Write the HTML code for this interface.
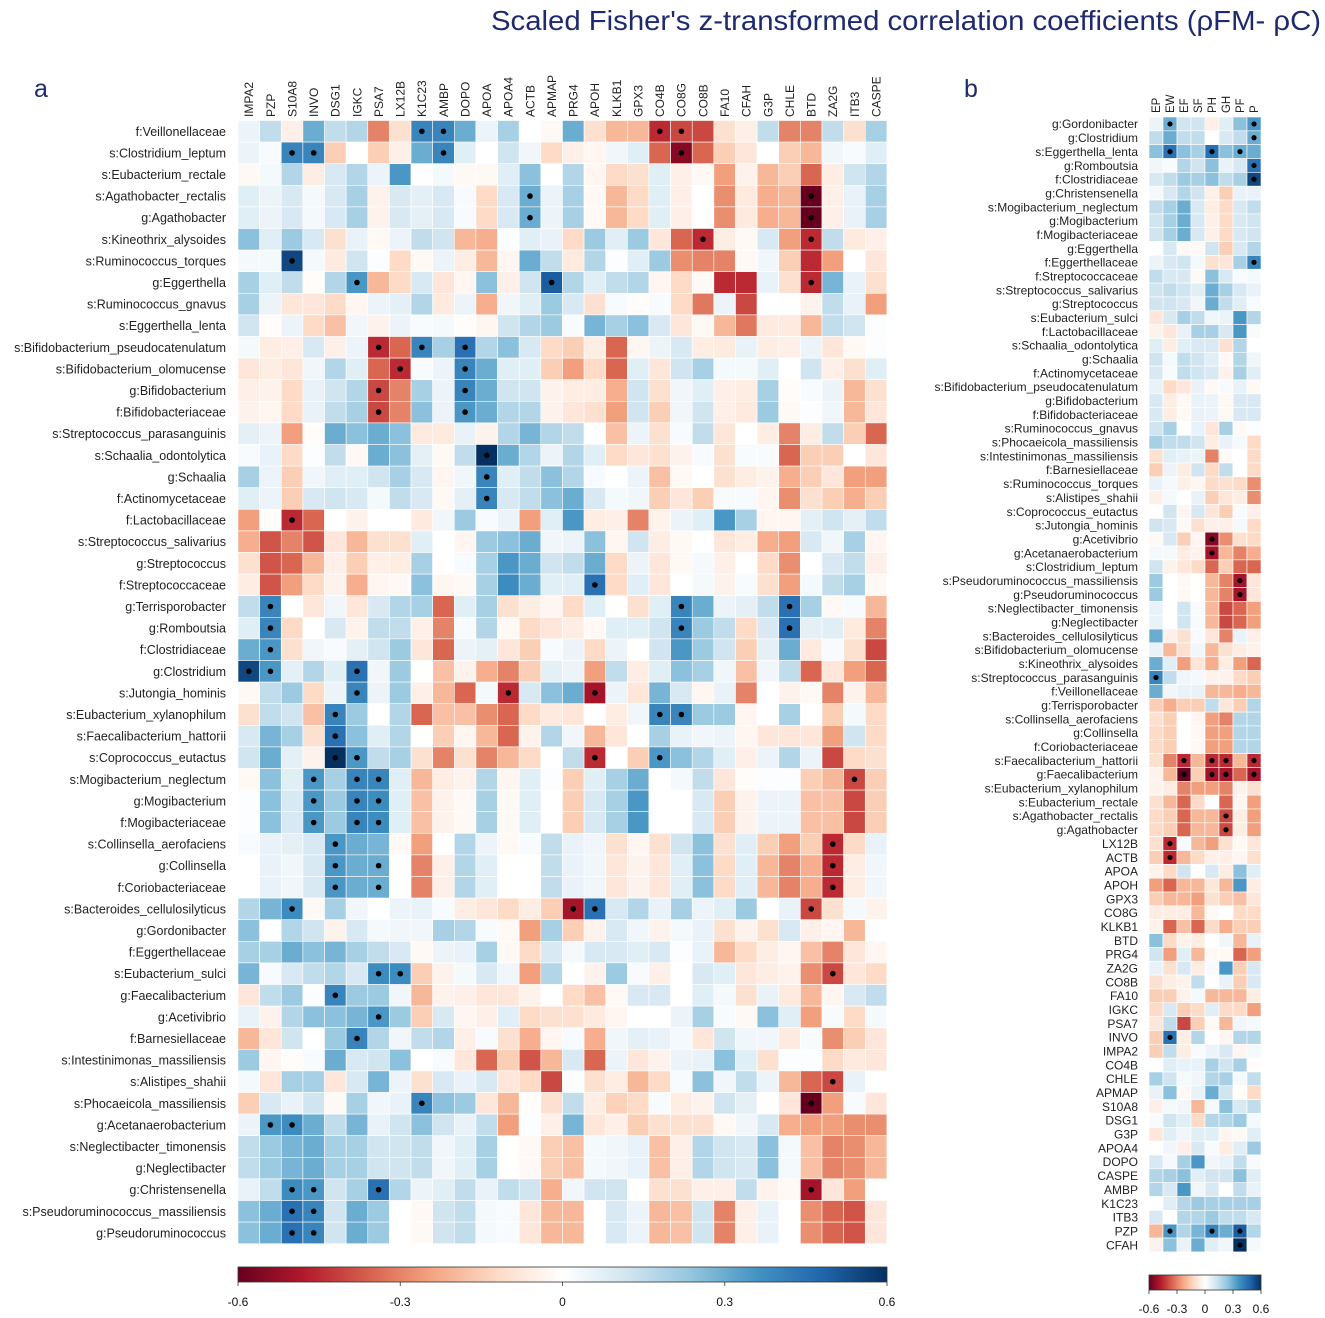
<!DOCTYPE html>
<html><head><meta charset="utf-8"><style>
body{margin:0;background:#fff;}
svg{display:block;font-family:"Liberation Sans",sans-serif;}
</style></head><body>
<svg id="chart" width="1325" height="1318" xmlns="http://www.w3.org/2000/svg">
<defs>
<linearGradient id="rdbu" x1="0" x2="1" y1="0" y2="0">
<stop offset="0" stop-color="#67001f"/><stop offset="0.1" stop-color="#b2182b"/><stop offset="0.2" stop-color="#d6604d"/><stop offset="0.3" stop-color="#f4a582"/><stop offset="0.4" stop-color="#fddbc7"/><stop offset="0.5" stop-color="#ffffff"/><stop offset="0.6" stop-color="#d1e5f0"/><stop offset="0.7" stop-color="#92c5de"/><stop offset="0.8" stop-color="#4393c3"/><stop offset="0.9" stop-color="#2166ac"/><stop offset="1" stop-color="#053061"/>
</linearGradient>
</defs>
<text x="1321" y="30" text-anchor="end" font-size="28" fill="#1f2a6e" textLength="830" lengthAdjust="spacingAndGlyphs">Scaled Fisher's z-transformed correlation coefficients (ρFM- ρC)</text>
<text x="34" y="97" font-size="25" fill="#1f2a6e">a</text>
<text x="964" y="97" font-size="25" fill="#1f2a6e">b</text>
<g id="pa"></g>
<g id="pb"></g>
<g id="cba"></g>
<g id="cbb"></g>
</svg>
<script>
const colsA=["IMPA2","PZP","S10A8","INVO","DSG1","IGKC","PSA7","LX12B","K1C23","AMBP","DOPO","APOA","APOA4","ACTB","APMAP","PRG4","APOH","KLKB1","GPX3","CO4B","CO8G","CO8B","FA10","CFAH","G3P","CHLE","BTD","ZA2G","ITB3","CASPE"];
const rowsA=["f:Veillonellaceae","s:Clostridium_leptum","s:Eubacterium_rectale","s:Agathobacter_rectalis","g:Agathobacter","s:Kineothrix_alysoides","s:Ruminococcus_torques","g:Eggerthella","s:Ruminococcus_gnavus","s:Eggerthella_lenta","s:Bifidobacterium_pseudocatenulatum","s:Bifidobacterium_olomucense","g:Bifidobacterium","f:Bifidobacteriaceae","s:Streptococcus_parasanguinis","s:Schaalia_odontolytica","g:Schaalia","f:Actinomycetaceae","f:Lactobacillaceae","s:Streptococcus_salivarius","g:Streptococcus","f:Streptococcaceae","g:Terrisporobacter","g:Romboutsia","f:Clostridiaceae","g:Clostridium","s:Jutongia_hominis","s:Eubacterium_xylanophilum","s:Faecalibacterium_hattorii","s:Coprococcus_eutactus","s:Mogibacterium_neglectum","g:Mogibacterium","f:Mogibacteriaceae","s:Collinsella_aerofaciens","g:Collinsella","f:Coriobacteriaceae","s:Bacteroides_cellulosilyticus","g:Gordonibacter","f:Eggerthellaceae","s:Eubacterium_sulci","g:Faecalibacterium","g:Acetivibrio","f:Barnesiellaceae","s:Intestinimonas_massiliensis","s:Alistipes_shahii","s:Phocaeicola_massiliensis","g:Acetanaerobacterium","s:Neglectibacter_timonensis","g:Neglectibacter","g:Christensenella","s:Pseudoruminococcus_massiliensis","g:Pseudoruminococcus"];
const valuesA=[
[.05,.15,-.05,.3,.15,.18,-.3,-.1,.4,.4,.3,.05,.2,0,-.02,.3,-.1,-.2,-.2,-.45,-.4,-.4,-.1,-.05,.15,-.3,-.3,.15,-.1,.2],
[.05,.02,.4,.4,-.15,0,-.15,-.05,.3,.4,.08,0,.12,.04,-.12,-.05,-.03,.04,.08,-.35,-.55,-.35,-.15,-.08,0,-.15,-.2,.04,.02,.08],
[-.02,.03,.18,-.06,.1,.18,.05,.35,0,.03,-.02,-.02,.08,.25,0,.18,-.03,-.12,-.1,.08,-.05,-.02,-.25,-.04,-.2,-.15,-.35,-.06,.12,.18],
[.08,.05,.1,.03,.1,.2,-.04,.1,.07,.1,.02,-.12,.1,.3,.05,.2,-.02,-.2,-.12,.08,-.05,0,-.28,-.07,-.22,-.2,-.6,-.05,.06,.2],
[.08,.05,.1,.03,.1,.2,-.04,.1,.07,.1,.02,-.12,.1,.3,.05,.2,-.02,-.2,-.12,.08,-.05,0,-.28,-.07,-.22,-.2,-.6,-.05,.06,.2],
[.25,.08,.22,.1,-.1,.06,-.02,.05,.15,.12,-.2,-.22,.01,.08,.06,-.12,.22,.08,.22,-.08,-.35,-.45,-.06,-.02,.1,-.25,-.45,.15,-.07,-.05],
[.03,.03,.55,.03,-.07,.12,.01,-.12,-.02,.05,-.06,-.2,-.03,.3,.15,-.07,.18,.01,.08,.22,-.28,-.3,-.3,-.02,.04,-.15,-.45,-.25,0,-.08],
[.2,.08,.15,-.01,.18,.35,-.2,-.12,.1,-.08,-.03,.25,-.05,.12,.5,.18,.08,.15,.18,-.03,-.12,-.02,-.45,-.45,.06,-.1,-.45,.28,.06,-.1],
[.2,.05,-.08,-.08,-.12,-.03,.05,.07,.18,-.07,.05,-.22,.04,.08,.22,.1,-.1,.02,-.01,.02,-.12,-.32,.05,-.4,0,0,-.04,.15,.06,-.25],
[.12,-.01,.05,-.12,-.18,.04,-.04,.05,.02,.03,-.01,-.03,.12,.18,.22,.02,.28,.2,.25,.1,-.08,-.02,-.2,-.32,-.07,-.07,-.2,.15,.12,.01],
[.03,-.06,-.05,.1,-.05,.05,-.45,-.35,.4,.2,.45,.18,.25,.1,-.12,-.15,-.06,-.35,-.03,.05,.1,-.06,-.07,.06,-.06,-.05,.05,-.08,-.02,.01],
[-.08,-.06,-.08,.04,.18,.08,-.35,-.45,.02,.05,.4,.3,.08,.08,-.15,-.25,-.12,-.35,.08,-.08,.12,.2,.03,.03,.08,0,.12,-.05,-.1,.08],
[-.05,-.04,-.12,.06,.12,.18,-.4,-.3,.2,.05,.4,.3,.12,.12,-.04,-.06,-.06,-.22,.12,-.1,.04,.08,-.05,-.06,.2,-.01,.02,.05,-.2,-.1],
[-.04,-.03,-.12,.06,.15,.2,-.4,-.3,.25,.05,.35,.3,.18,.18,-.04,-.08,-.1,-.25,.12,-.15,.04,.12,-.05,-.07,.22,-.02,.01,.04,-.2,-.08],
[.07,.05,-.25,-.01,.3,.25,.3,.25,-.07,-.07,.06,-.04,.18,.28,.18,.15,0,-.18,.05,-.1,.02,.15,-.08,0,-.06,-.3,-.06,.15,-.15,-.35],
[.02,.06,-.12,.01,.15,-.02,.3,.25,.07,-.02,.15,.6,.3,.18,.05,.18,.08,-.12,-.08,-.1,-.04,.02,-.1,.02,.02,-.35,-.15,-.15,0,-.08],
[.2,.05,-.15,.04,.08,.08,.12,.2,.1,-.03,.04,.4,.08,.15,.25,.18,.02,0,.05,-.18,-.02,0,-.1,-.06,-.04,-.22,-.15,-.08,-.25,-.25],
[.08,.05,-.15,.1,.12,.1,.03,.15,.1,-.02,.07,.4,.1,.15,.25,.3,.1,.03,.04,-.15,-.08,-.15,.02,.02,-.03,-.28,-.1,-.15,-.22,-.15],
[-.25,-.01,-.45,-.35,0,-.04,0,0,-.07,.04,.22,.02,.05,-.25,.08,.35,-.06,-.05,-.3,-.04,.05,.08,.35,.2,-.03,-.03,.07,.12,.07,.15],
[-.22,-.38,-.3,-.38,-.08,-.2,-.1,-.1,.08,0,-.03,.22,.25,.3,.04,.05,.25,-.03,.12,-.06,-.02,0,-.08,-.06,-.22,-.25,.1,.04,.2,-.03],
[-.1,-.38,-.35,-.2,-.05,-.15,-.05,-.06,.2,0,.02,.2,.35,.3,.12,.15,.3,-.12,.05,-.08,-.02,.03,-.05,0,-.12,-.28,0,.1,.15,-.05],
[-.06,-.38,-.25,-.12,-.04,-.22,-.03,-.02,.25,-.03,-.02,.2,.38,.3,.08,.08,.45,-.12,.08,-.08,0,.03,-.04,.02,-.1,-.25,.03,.15,.2,-.02],
[.15,.4,0,-.08,.04,-.08,.1,.18,.2,-.35,.08,.2,-.1,-.06,-.03,-.12,.08,0,-.1,.08,.4,.3,.05,.07,.15,.45,.2,-.02,.02,-.2],
[.08,.4,-.12,0,.1,-.04,.15,.15,-.05,-.3,.02,.18,-.02,-.12,-.08,-.06,-.02,.08,.08,.12,.4,.22,.15,-.12,.1,.45,.07,.08,-.07,-.3],
[.3,.35,-.1,.04,.02,.07,.12,.22,-.08,-.35,.05,.07,-.08,-.15,.02,.05,-.12,.05,0,.12,.35,.22,.12,-.15,.07,.3,-.07,.02,-.1,-.4],
[.55,.35,.07,.18,.08,.45,.04,.22,0,-.18,-.04,-.22,-.3,-.15,.07,.05,-.25,.15,-.06,.08,.25,.2,.04,-.18,.04,.15,-.35,-.08,-.25,-.35],
[-.02,.15,.22,-.12,.05,.4,.05,.22,-.05,-.2,-.35,.03,-.45,.1,.25,.3,-.5,.05,-.08,.28,.1,-.03,.06,-.3,0,-.04,-.02,-.3,-.04,-.2],
[-.1,.15,.12,-.18,.4,.22,0,.18,-.35,-.18,-.18,-.28,-.35,-.12,-.07,-.08,0,-.06,.04,.4,.4,.22,.22,-.03,0,.2,0,-.15,.03,-.12],
[.1,.28,.2,-.1,.45,.25,.08,.18,0,-.15,-.03,-.2,-.35,-.04,.18,.04,-.2,-.08,0,.2,.06,.04,.05,-.03,-.08,-.08,-.08,-.25,.12,-.12],
[.12,.3,.07,-.04,.6,.35,.15,.2,-.1,-.3,-.1,-.3,-.2,-.12,0,.15,-.45,0,-.15,.35,.25,.18,.08,-.05,.05,.18,.05,-.4,-.12,-.1],
[-.02,.25,.08,.35,.2,.4,.4,.08,-.2,-.06,-.04,.18,-.03,.08,.01,-.15,.08,.2,.3,0,.03,.15,-.08,-.01,.01,.01,-.15,-.2,-.4,-.15],
[.01,.25,.1,.35,.22,.4,.38,.08,-.18,-.04,-.02,.2,-.02,.08,0,-.15,.1,.2,.35,0,0,.1,-.15,-.04,.05,.05,-.18,-.18,-.4,-.15],
[.01,.25,.1,.35,.22,.4,.38,.08,-.18,-.04,-.02,.2,-.02,.08,0,-.15,.1,.2,.35,0,0,.1,-.15,-.04,.05,.05,-.18,-.18,-.4,-.15],
[.02,.06,.07,.1,.35,.3,.28,-.02,-.25,0,.18,.05,-.02,.02,.15,.06,.04,-.1,-.03,-.1,.12,.25,-.1,.08,-.15,-.25,-.15,-.45,-.12,.06],
[0,.06,.04,.1,.35,.3,.3,0,-.3,-.05,.18,.08,0,0,.15,.06,.04,-.08,-.04,-.08,.08,.25,-.12,.08,-.2,-.3,-.22,-.45,-.06,.04],
[0,.06,.04,.1,.35,.3,.3,0,-.3,-.05,.18,.08,0,0,.15,.06,.04,-.08,-.04,-.08,.08,.25,-.12,.08,-.2,-.3,-.22,-.45,-.06,.04],
[.18,.28,.38,-.02,.2,.04,0,.05,.06,.02,-.06,-.08,-.12,-.06,-.15,-.5,.45,.1,.18,.06,.2,.05,.08,.22,0,.06,-.4,-.1,.03,-.04],
[.25,0,.18,.12,-.04,.1,.03,.04,.04,.2,.18,.02,-.02,-.25,.2,-.15,-.04,.1,.04,-.04,.03,.06,-.1,-.04,-.1,.1,-.05,-.03,-.2,0],
[.2,.2,.3,.25,.28,.2,.15,.1,-.02,.05,.06,.2,-.02,-.12,.1,.03,.1,.1,.08,.1,.01,.06,-.2,-.12,-.06,-.03,-.18,-.3,-.08,-.03],
[.28,.02,.1,.15,.18,.1,.38,.38,-.15,-.04,.03,.1,.04,-.25,.18,0,-.04,.22,.02,-.05,0,.1,.08,-.08,-.06,-.04,-.28,-.4,-.08,-.12],
[-.08,.15,.22,.01,.4,.22,.22,.04,-.2,-.04,-.05,-.08,-.08,-.04,0,-.12,-.18,-.02,.1,.1,0,.08,.03,-.1,.06,-.07,-.2,-.03,.1,.15],
[.06,-.04,.18,.25,.25,.28,.35,.22,-.15,.1,-.03,-.05,.08,-.12,-.1,-.1,-.07,-.03,0,0,.05,.2,.02,-.02,.25,.08,-.25,.02,-.12,.03],
[-.2,-.08,.12,0,.22,.4,.18,.04,.15,.18,-.05,.02,-.1,-.22,-.03,.02,-.22,.04,.07,.06,.03,-.08,.12,.04,.04,-.07,.02,-.28,-.15,-.08],
[.22,-.03,-.01,.02,.3,.1,.12,.25,0,.02,-.08,-.35,-.15,-.38,-.2,.1,-.35,.05,-.08,-.04,.05,.06,.25,.08,-.1,.01,.01,-.12,-.07,-.08],
[.03,-.08,.2,.2,-.08,.1,.28,.05,-.1,.1,.06,.1,-.08,-.12,-.4,.01,-.1,-.06,-.2,-.12,.02,.25,.04,.15,.05,-.2,-.35,-.4,.06,0],
[-.15,.1,.06,.12,-.02,.2,.04,.06,.4,.25,.22,-.08,-.2,-.01,-.1,.15,-.06,-.14,-.12,.02,-.06,-.04,.12,.07,0,-.08,-.6,-.25,.02,-.08],
[.05,.35,.38,.3,.15,.28,.06,.12,.25,.12,.06,.15,-.25,.01,-.05,.28,-.08,-.05,-.15,-.1,-.1,-.1,-.02,.04,.1,-.22,-.25,-.25,-.28,-.28],
[.15,.22,.28,.3,.2,.2,.12,.12,.15,.04,.08,.2,0,-.02,-.15,-.18,.03,.04,.06,-.18,-.05,.18,.12,.1,.25,.03,-.18,-.3,-.28,-.2],
[.15,.22,.28,.3,.2,.2,.12,.12,.15,.04,.08,.2,0,-.02,-.15,-.18,.03,.04,.06,-.18,-.05,.18,.12,.1,.25,.03,-.18,-.3,-.28,-.2],
[.06,.15,.38,.35,.12,.2,.45,.18,.05,.08,.15,.06,.15,.12,-.22,.04,.12,.12,0,-.1,-.1,-.05,-.05,.15,-.04,-.02,-.5,-.08,-.25,0],
[.25,.3,.45,.4,.12,.3,.22,0,-.02,.12,.15,.03,.02,-.08,-.2,-.2,0,.1,.05,-.2,-.18,.12,-.3,-.05,.06,0,-.28,-.35,-.38,-.08],
[.25,.3,.45,.4,.12,.3,.22,0,-.02,.12,.15,.03,.02,-.08,-.2,-.2,0,.1,.05,-.2,-.18,.12,-.3,-.05,.06,0,-.28,-.35,-.38,-.08]
];
const sigA=[[0,8],[0,9],[0,19],[0,20],[1,2],[1,3],[1,9],[1,20],[3,13],[3,26],[4,13],[4,26],[5,21],[5,26],[6,2],[7,5],[7,14],[7,26],[10,6],[10,8],[10,10],[11,7],[11,10],[12,6],[12,10],[13,6],[13,10],[15,11],[16,11],[17,11],[18,2],[21,16],[22,1],[22,20],[22,25],[23,1],[23,20],[23,25],[24,1],[25,0],[25,1],[25,5],[26,5],[26,12],[26,16],[27,4],[27,19],[27,20],[28,4],[29,4],[29,5],[29,16],[29,19],[30,3],[30,5],[30,6],[30,28],[31,3],[31,5],[31,6],[32,3],[32,5],[32,6],[33,4],[33,27],[34,4],[34,6],[34,27],[35,4],[35,6],[35,27],[36,2],[36,15],[36,16],[36,26],[39,6],[39,7],[39,27],[40,4],[41,6],[42,5],[44,27],[45,8],[45,26],[46,1],[46,2],[49,2],[49,3],[49,6],[49,26],[50,2],[50,3],[51,2],[51,3]];

const colsB=["EP","EW","EF","SF","PH","GH","PF","P"];
const rowsB=["g:Gordonibacter","g:Clostridium","s:Eggerthella_lenta","g:Romboutsia","f:Clostridiaceae","g:Christensenella","s:Mogibacterium_neglectum","g:Mogibacterium","f:Mogibacteriaceae","g:Eggerthella","f:Eggerthellaceae","f:Streptococcaceae","s:Streptococcus_salivarius","g:Streptococcus","s:Eubacterium_sulci","f:Lactobacillaceae","s:Schaalia_odontolytica","g:Schaalia","f:Actinomycetaceae","s:Bifidobacterium_pseudocatenulatum","g:Bifidobacterium","f:Bifidobacteriaceae","s:Ruminococcus_gnavus","s:Phocaeicola_massiliensis","s:Intestinimonas_massiliensis","f:Barnesiellaceae","s:Ruminococcus_torques","s:Alistipes_shahii","s:Coprococcus_eutactus","s:Jutongia_hominis","g:Acetivibrio","g:Acetanaerobacterium","s:Clostridium_leptum","s:Pseudoruminococcus_massiliensis","g:Pseudoruminococcus","s:Neglectibacter_timonensis","g:Neglectibacter","s:Bacteroides_cellulosilyticus","s:Bifidobacterium_olomucense","s:Kineothrix_alysoides","s:Streptococcus_parasanguinis","f:Veillonellaceae","g:Terrisporobacter","s:Collinsella_aerofaciens","g:Collinsella","f:Coriobacteriaceae","s:Faecalibacterium_hattorii","g:Faecalibacterium","s:Eubacterium_xylanophilum","s:Eubacterium_rectale","s:Agathobacter_rectalis","g:Agathobacter","LX12B","ACTB","APOA","APOH","GPX3","CO8G","KLKB1","BTD","PRG4","ZA2G","CO8B","FA10","IGKC","PSA7","INVO","IMPA2","CO4B","CHLE","APMAP","S10A8","DSG1","G3P","APOA4","DOPO","CASPE","AMBP","K1C23","ITB3","PZP","CFAH"];
const valuesB=[
[.05,.3,.12,.12,-.05,.08,.25,.35],[.15,.3,.15,.15,0,.1,.15,.3],[.25,.45,.25,.2,.45,.25,.3,.3],[.04,.02,.18,.12,.25,.06,.1,.45],[.1,.15,.22,.2,.25,.15,.2,.55],
[.03,.1,.18,.12,-.05,-.15,.06,.06],[.15,.2,.3,.1,-.06,-.12,.1,.15],[.12,.2,.3,.1,-.05,-.12,.1,.12],[.12,.2,.3,.1,-.05,-.12,.1,.12],[0,.1,-.02,-.02,.12,-.15,.1,.18],
[.05,.1,.12,.03,-.1,-.08,.2,.4],[.15,.1,.1,-.02,.25,.1,.02,.03],[.12,.15,.12,.08,.3,.2,.1,.06],[.12,.12,.1,.04,.3,.15,.08,.02],[-.08,.1,.2,.15,.04,.05,.35,.18],
[-.04,-.08,.06,.2,.2,.1,.35,.02],[.08,-.06,.08,.1,.1,-.1,.18,0],[.12,.03,.15,.12,.08,-.02,.18,.04],[.1,.02,.15,.12,.1,-.04,.2,.08],[.06,-.12,-.08,.06,-.02,.02,.06,-.02],
[.1,-.06,-.02,.06,.05,-.02,.1,.1],[.1,-.06,-.02,.06,.05,-.02,.1,.1],[.12,.2,0,.06,-.08,.2,-.02,.01],[.2,.15,.15,.12,-.06,.06,.03,-.12],[-.1,.08,.06,.05,-.3,-.02,0,-.12],
[-.15,.05,-.06,.12,-.12,.15,0,-.12],[.06,.03,-.05,-.03,-.12,-.1,-.12,-.28],[-.05,.03,0,.06,-.15,-.08,-.06,-.28],[0,.12,-.03,.1,-.08,-.15,.02,-.05],[.12,.1,-.02,-.1,-.05,-.05,.03,-.12],
[-.02,.1,-.15,-.03,-.55,-.28,-.1,-.12],[.03,.03,-.06,-.04,-.5,-.2,-.3,-.22],[.12,-.04,-.08,-.12,-.35,-.15,-.35,-.35],[.22,0,-.02,0,-.2,-.3,-.5,-.08],[.22,0,-.02,0,-.2,-.3,-.5,-.08],
[.06,0,.12,.02,-.2,-.4,-.35,-.25],[.06,0,.12,.02,-.2,-.4,-.35,-.25],[.3,-.05,-.1,.02,-.08,-.3,.06,-.05],[.06,-.2,-.1,.04,-.2,-.1,-.06,-.04],[.3,.08,-.25,-.08,-.22,-.06,-.25,-.35],
[.4,.15,.04,.03,-.04,-.04,-.12,-.15],[.3,.04,.06,.06,-.2,-.2,-.22,-.2],[-.15,-.22,-.15,-.15,.15,-.08,-.15,.18],[-.1,-.15,0,-.03,-.25,-.3,.18,.18],[-.12,-.15,0,-.02,-.25,-.25,.18,.18],
[-.12,-.15,0,-.02,-.25,-.25,.18,.18],[-.1,-.3,-.45,-.2,-.45,-.45,-.2,-.45],[-.04,-.2,-.6,-.15,-.5,-.5,-.35,-.5],[-.04,-.06,-.3,-.25,-.25,-.3,-.04,-.1],[-.1,-.2,-.35,-.12,0,-.35,-.03,-.25],
[-.12,-.15,-.35,-.2,-.2,-.4,-.06,-.25],[-.12,-.15,-.35,-.2,-.2,-.4,-.06,-.25],[-.1,-.45,.02,-.2,-.25,-.1,-.02,-.08],[-.15,-.45,-.2,-.12,-.05,-.05,-.03,-.1],[-.04,-.12,.12,0,.1,-.06,.25,.08],
[-.25,-.35,-.2,-.2,-.08,-.2,.35,-.06],[-.15,-.2,-.2,-.25,-.1,-.15,-.18,-.08],[-.06,-.06,-.06,-.2,-.02,0,-.12,-.12],[-.04,-.35,-.18,-.35,-.12,-.22,-.15,-.15],[.25,-.12,-.04,-.06,0,.04,-.2,.06],
[.12,-.25,.08,-.2,-.02,-.02,-.35,-.25],[.06,-.1,.1,-.06,.02,.35,-.15,.1],[-.1,-.06,-.04,.15,0,.06,-.15,.1],[-.15,-.15,-.04,.03,-.2,-.2,-.2,-.06],[-.12,.1,-.15,-.12,.08,-.12,-.12,-.25],
[-.08,.15,-.4,-.15,-.02,-.2,.04,.03],[-.15,.45,-.06,.18,0,-.03,.18,.18],[-.15,.15,-.06,.02,.05,.1,-.03,.03],[0,.08,.06,.06,.2,.12,.2,-.01],[.2,.12,.03,.04,.18,.2,.03,.15],
[.06,.25,-.02,.06,.3,.12,-.01,-.12],[-.05,.03,.04,-.2,.03,.25,.1,.15],[.02,.12,.08,-.12,.18,.18,.22,.03],[-.08,.08,.04,.08,.08,-.03,-.02,.08],[0,.04,-.05,.1,.02,-.06,.08,.22],
[.1,.03,.2,.35,.04,.06,.15,.02],[.18,.2,.25,.08,.12,.12,.25,.08],[.18,.1,.35,.04,.1,0,.15,.06],[0,.08,.18,.22,.2,.2,.2,.2],[.1,0,.18,.18,.22,.15,.15,.1],
[-.2,.35,.18,.28,.4,.3,.5,.18],[-.04,.25,.06,.3,.08,.04,.6,.03]
];
const sigB=[[0,1],[0,7],[1,7],[2,1],[2,4],[2,6],[3,7],[4,7],[10,7],[30,4],[31,4],[33,6],[34,6],[40,0],[46,2],[46,4],[46,5],[46,7],[47,2],[47,4],[47,5],[47,7],[50,5],[51,5],[52,1],[53,1],[66,1],[80,1],[80,4],[80,6],[81,6]];
const ticksA=[-0.6,-0.3,0,0.3,0.6];
const ticksB=[-0.6,-0.3,0,0.3,0.6];

const NS="http://www.w3.org/2000/svg";
const stops=[[103,0,31],[178,24,43],[214,96,77],[244,165,130],[253,219,199],[255,255,255],[209,229,240],[146,197,222],[67,147,195],[33,102,172],[5,48,97]];
function color(v){let t=(Math.max(-0.6,Math.min(0.6,v))+0.6)/1.2*10;let i=Math.min(9,Math.floor(t)),f=t-i;const a=stops[i],b=stops[i+1];return "rgb("+a.map((c,k)=>Math.round(c+(b[k]-c)*f)).join(",")+")";}
function mk(tag,attrs,parent){const e=document.createElementNS(NS,tag);for(const k in attrs)e.setAttribute(k,attrs[k]);parent.appendChild(e);return e;}

function drawPanel(g,rows,cols,vals,sig,x0,y0,cw,rh,fs,cfs,labRight,colBottom,dotR,pfx){
  vals.forEach((row,r)=>row.forEach((v,c)=>{
    const rc=mk("rect",{x:x0+c*cw,y:y0+r*rh,width:cw,height:rh,fill:color(v),stroke:"#ffffff","stroke-width":0.6},g);
    
    
  }));
  sig.forEach(([r,c])=>{
    const d=mk("circle",{cx:x0+(c+0.5)*cw,cy:y0+(r+0.5)*rh,r:dotR,fill:"#000"},g);
    
    
  });
  rows.forEach((n,r)=>{
    const t=mk("text",{x:labRight,y:y0+(r+0.5)*rh+fs*0.36,"text-anchor":"end","font-size":fs,fill:"#222"},g);
    t.textContent=n;
    
    
  });
  cols.forEach((n,c)=>{
    const x=x0+(c+0.5)*cw+cfs*0.36;
    const t=mk("text",{x:x,y:colBottom,transform:"rotate(-90 "+x+" "+colBottom+")","font-size":cfs,fill:"#222"},g);
    t.textContent=n;
    
    
  });
}
drawPanel(document.getElementById("pa"),rowsA,colsA,valuesA,sigA,238,120.5,21.63,21.6,12.5,12,226,117,2.8,"a");
drawPanel(document.getElementById("pb"),rowsB,colsB,valuesB,sigB,1149,117,14,13.84,12,11.5,1138,113,2.6,"b");

function colorbar(g,x0,y0,w,h,ticks,ly,fs,pfx){
  const r=mk("rect",{x:x0,y:y0,width:w,height:h,fill:"url(#rdbu)",stroke:"#333","stroke-width":0.8},g);
  
  
  ticks.forEach(v=>{
    const x=x0+(v+0.6)/1.2*w;
    const l=mk("line",{x1:x,x2:x,y1:y0+h,y2:y0+h+4,stroke:"#333","stroke-width":0.8},g);
    
    
    const t=mk("text",{x:x,y:ly,"text-anchor":"middle","font-size":fs,fill:"#111"},g);
    t.textContent=String(v);
    
    
  });
}
colorbar(document.getElementById("cba"),238,1267,649,15,ticksA,1306,12,"colorbar-a");
colorbar(document.getElementById("cbb"),1149,1275,112,15,ticksB,1313,12,"colorbar-b");
</script>
</body></html>
